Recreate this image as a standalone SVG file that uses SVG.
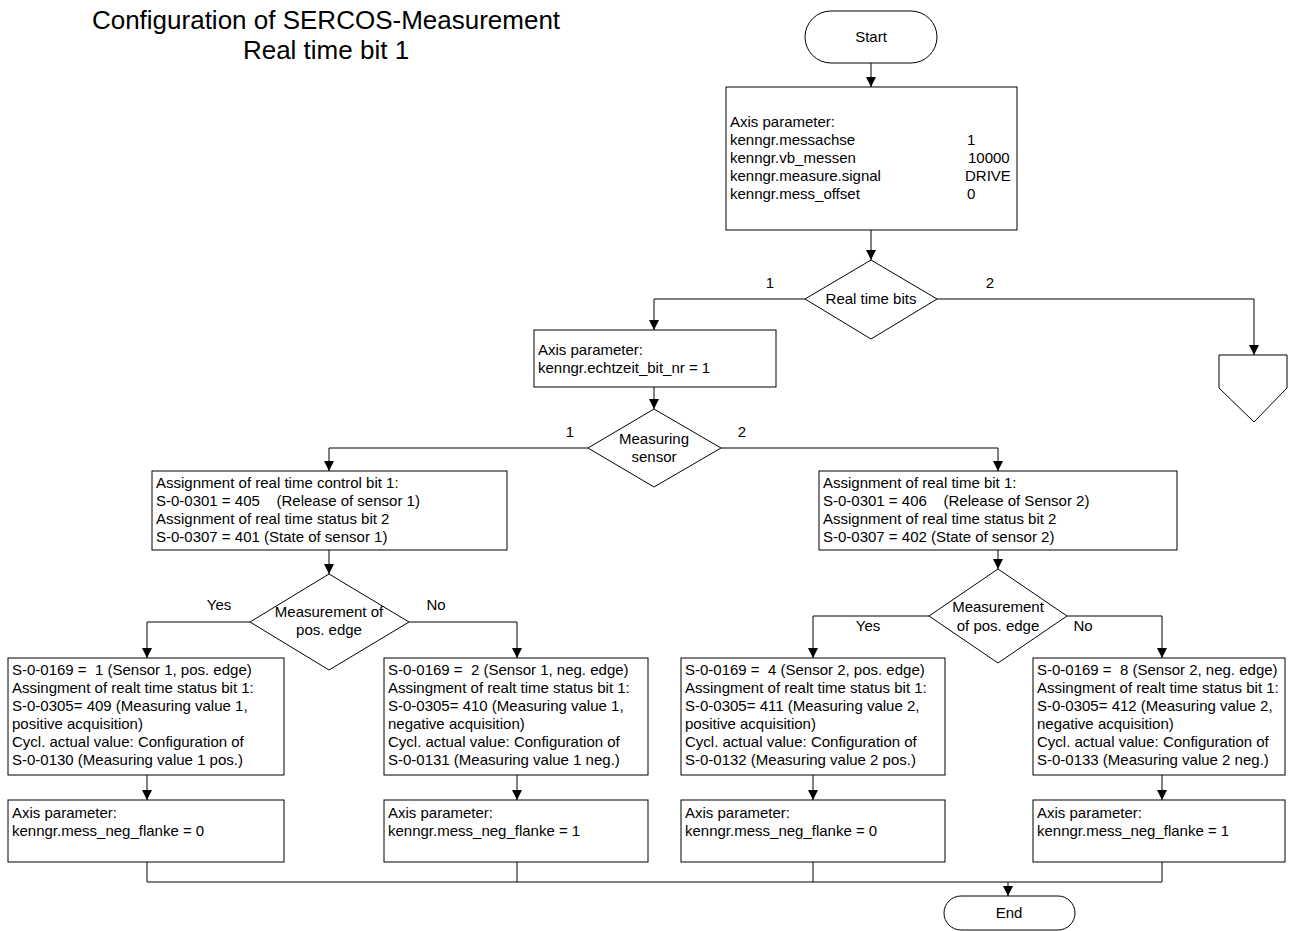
<svg xmlns="http://www.w3.org/2000/svg" width="1292" height="931" viewBox="0 0 1292 931">
<defs>
<marker id="arr" markerWidth="10" markerHeight="10" refX="10" refY="5" orient="auto" markerUnits="userSpaceOnUse">
<path d="M0,0 L10,5 L0,10 z" fill="#000"/>
</marker>
<style>
.shape{fill:#fff;stroke:#000;stroke-width:1}
.t{font-family:"Liberation Sans",Arial,sans-serif;font-size:15px;fill:#000}
.c{text-anchor:middle}
.title{font-family:"Liberation Sans",Arial,sans-serif;font-size:26px;fill:#000;text-anchor:middle}
.ln{fill:none;stroke:#000;stroke-width:1}
.ar{fill:none;stroke:#000;stroke-width:1;marker-end:url(#arr)}
</style>
</defs>
<rect width="1292" height="931" fill="#fff"/>
<g id="title">
<text class="title" x="326" y="29">Configuration of SERCOS-Measurement</text>
<text class="title" x="326" y="59">Real time bit 1</text>
</g>
<g id="connectors">
<path class="ar" d="M871,63 V87"/>
<path class="ar" d="M871,230 V260"/>
<path class="ar" d="M805,299 H654 V330"/>
<path class="ar" d="M937,299 H1254 V355"/>
<path class="ar" d="M654,387 V409"/>
<path class="ar" d="M588,448 H329 V471"/>
<path class="ar" d="M721,448 H998 V471"/>
<path class="ar" d="M329,550 V574"/>
<path class="ar" d="M998,550 V569"/>
<path class="ar" d="M250,622 H147 V658"/>
<path class="ar" d="M409,622 H517 V658"/>
<path class="ar" d="M929,616 H813 V658"/>
<path class="ar" d="M1067,616 H1162 V658"/>
<path class="ar" d="M147,775 V800"/>
<path class="ar" d="M517,775 V800"/>
<path class="ar" d="M813,775 V800"/>
<path class="ar" d="M1162,775 V800"/>
<path class="ln" d="M147,862 V882 H1162 V862"/>
<path class="ln" d="M517,862 V882"/>
<path class="ln" d="M813,862 V882"/>
<path class="ar" d="M1008,882 V896"/>
<text class="t c" x="770" y="288">1</text>
<text class="t c" x="990" y="288">2</text>
<text class="t c" x="570" y="437">1</text>
<text class="t c" x="742" y="437">2</text>
<text class="t c" x="219" y="610">Yes</text>
<text class="t c" x="436" y="610">No</text>
<text class="t c" x="868" y="631">Yes</text>
<text class="t c" x="1083" y="631">No</text>
</g>
<g id="start">
<rect class="shape" x="805" y="11" width="132" height="52" rx="26"/>
<text class="t c" x="871" y="42">Start</text>
</g>
<g id="axis1">
<rect class="shape" x="726" y="87" width="291" height="143"/>
<text class="t" x="730" y="127">Axis parameter:</text>
<text class="t" x="730" y="145">kenngr.messachse</text>
<text class="t" x="730" y="163">kenngr.vb_messen</text>
<text class="t" x="730" y="181">kenngr.measure.signal</text>
<text class="t" x="730" y="199">kenngr.mess_offset</text>
<text class="t" x="967" y="145">1</text>
<text class="t" x="968" y="163">10000</text>
<text class="t" x="965" y="181">DRIVE</text>
<text class="t" x="967" y="199">0</text>
</g>
<g id="dec-realtime">
<polygon class="shape" points="871,260 937,299 871,339 805,299"/>
<text class="t c" x="871" y="304">Real time bits</text>
</g>
<g id="offpage">
<polygon class="shape" points="1219,355 1287,355 1287,388 1254,422 1219,388"/>
</g>
<g id="axis2">
<rect class="shape" x="534" y="330" width="242" height="57"/>
<text class="t" x="538" y="355">Axis parameter:</text>
<text class="t" x="538" y="373">kenngr.echtzeit_bit_nr = 1</text>
</g>
<g id="dec-sensor">
<polygon class="shape" points="654,409 721,448 654,487 588,448"/>
<text class="t c" x="654" y="444">Measuring</text>
<text class="t c" x="654" y="462">sensor</text>
</g>
<g id="assign1">
<rect class="shape" x="152" y="471" width="355" height="79"/>
<text class="t" x="156" y="488">Assignment of real time control bit 1:</text>
<text class="t" x="156" y="506" xml:space="preserve">S-0-0301 = 405    (Release of sensor 1)</text>
<text class="t" x="156" y="524">Assignment of real time status bit 2</text>
<text class="t" x="156" y="542">S-0-0307 = 401 (State of sensor 1)</text>
</g>
<g id="assign2">
<rect class="shape" x="819" y="471" width="358" height="79"/>
<text class="t" x="823" y="488">Assignment of real time bit 1:</text>
<text class="t" x="823" y="506" xml:space="preserve">S-0-0301 = 406    (Release of Sensor 2)</text>
<text class="t" x="823" y="524">Assignment of real time status bit 2</text>
<text class="t" x="823" y="542">S-0-0307 = 402 (State of sensor 2)</text>
</g>
<g id="dec-edge1">
<polygon class="shape" points="329,574 409,622 329,670 250,622"/>
<text class="t c" x="329" y="617">Measurement of</text>
<text class="t c" x="329" y="635">pos. edge</text>
</g>
<g id="dec-edge2">
<polygon class="shape" points="998,569 1067,616 998,663 929,616"/>
<text class="t c" x="998" y="612">Measurement</text>
<text class="t c" x="998" y="631">of pos. edge</text>
</g>
<g id="boxA">
<rect class="shape" x="8" y="658" width="276" height="117"/>
<text class="t" x="12" y="675" xml:space="preserve">S-0-0169 =  1 (Sensor 1, pos. edge)</text>
<text class="t" x="12" y="693">Assingment of realt time status bit 1:</text>
<text class="t" x="12" y="711">S-0-0305= 409 (Measuring value 1,</text>
<text class="t" x="12" y="729">positive acquisition)</text>
<text class="t" x="12" y="747">Cycl. actual value: Configuration of</text>
<text class="t" x="12" y="765">S-0-0130 (Measuring value 1 pos.)</text>
</g>
<g id="boxB">
<rect class="shape" x="384" y="658" width="264" height="117"/>
<text class="t" x="388" y="675" xml:space="preserve">S-0-0169 =  2 (Sensor 1, neg. edge)</text>
<text class="t" x="388" y="693">Assingment of realt time status bit 1:</text>
<text class="t" x="388" y="711">S-0-0305= 410 (Measuring value 1,</text>
<text class="t" x="388" y="729">negative acquisition)</text>
<text class="t" x="388" y="747">Cycl. actual value: Configuration of</text>
<text class="t" x="388" y="765">S-0-0131 (Measuring value 1 neg.)</text>
</g>
<g id="boxC">
<rect class="shape" x="681" y="658" width="264" height="117"/>
<text class="t" x="685" y="675" xml:space="preserve">S-0-0169 =  4 (Sensor 2, pos. edge)</text>
<text class="t" x="685" y="693">Assingment of realt time status bit 1:</text>
<text class="t" x="685" y="711">S-0-0305= 411 (Measuring value 2,</text>
<text class="t" x="685" y="729">positive acquisition)</text>
<text class="t" x="685" y="747">Cycl. actual value: Configuration of</text>
<text class="t" x="685" y="765">S-0-0132 (Measuring value 2 pos.)</text>
</g>
<g id="boxD">
<rect class="shape" x="1033" y="658" width="252" height="117"/>
<text class="t" x="1037" y="675" xml:space="preserve">S-0-0169 =  8 (Sensor 2, neg. edge)</text>
<text class="t" x="1037" y="693">Assingment of realt time status bit 1:</text>
<text class="t" x="1037" y="711">S-0-0305= 412 (Measuring value 2,</text>
<text class="t" x="1037" y="729">negative acquisition)</text>
<text class="t" x="1037" y="747">Cycl. actual value: Configuration of</text>
<text class="t" x="1037" y="765">S-0-0133 (Measuring value 2 neg.)</text>
</g>
<g id="axisA">
<rect class="shape" x="8" y="800" width="276" height="62"/>
<text class="t" x="12" y="818">Axis parameter:</text>
<text class="t" x="12" y="836">kenngr.mess_neg_flanke = 0</text>
</g>
<g id="axisB">
<rect class="shape" x="384" y="800" width="264" height="62"/>
<text class="t" x="388" y="818">Axis parameter:</text>
<text class="t" x="388" y="836">kenngr.mess_neg_flanke = 1</text>
</g>
<g id="axisC">
<rect class="shape" x="681" y="800" width="264" height="62"/>
<text class="t" x="685" y="818">Axis parameter:</text>
<text class="t" x="685" y="836">kenngr.mess_neg_flanke = 0</text>
</g>
<g id="axisD">
<rect class="shape" x="1033" y="800" width="252" height="62"/>
<text class="t" x="1037" y="818">Axis parameter:</text>
<text class="t" x="1037" y="836">kenngr.mess_neg_flanke = 1</text>
</g>
<g id="end">
<rect class="shape" x="944" y="896" width="131" height="34" rx="17"/>
<text class="t c" x="1009" y="918">End</text>
</g>
</svg>
